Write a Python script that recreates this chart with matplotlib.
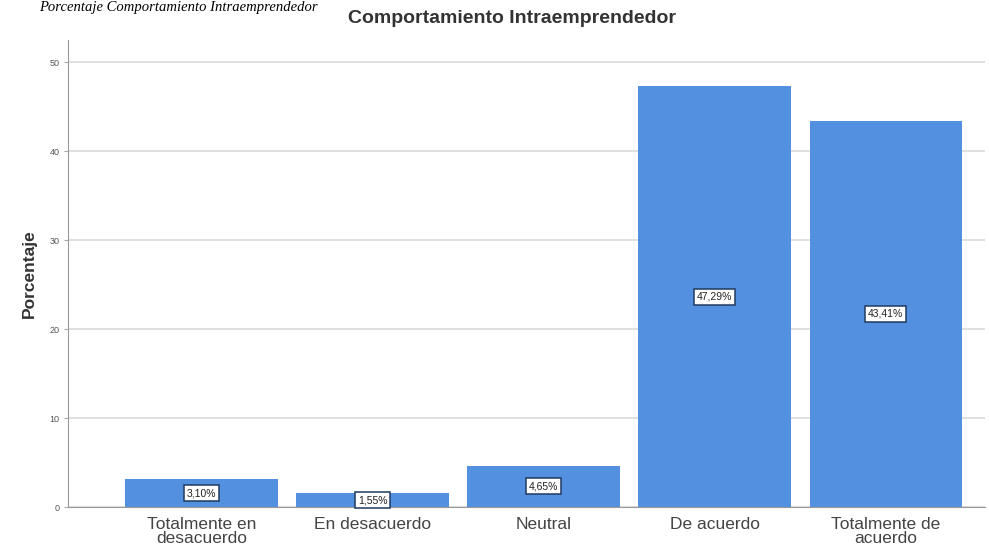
import matplotlib.pyplot as plt

# Data
categories = ["Totalmente en\ndesacuerdo", "En desacuerdo", "Neutral",
              "De acuerdo", "Totalmente de\nacuerdo"]
percentages = [3.10, 1.55, 4.65, 47.29, 43.41]
y_ticks = [0, 10, 20, 30, 40, 50]

plt.rcParams["font.family"] = ["Liberation Sans", "DejaVu Sans"]

fig = plt.figure(figsize=(9.89, 5.52), dpi=100)
ax = fig.add_axes([0.0688, 0.0815, 0.927, 0.846])

x = list(range(len(categories)))
bars = ax.bar(x, percentages, width=0.89, color="#5390e0", zorder=2)

# value labels in white boxes at mid-height of each bar
for xi, v in zip(x, percentages):
    ax.text(xi, v / 2, f"{v:.2f}%".replace(".", ","), ha="center", va="center",
            fontsize=7.5, color="#222222", zorder=3,
            bbox=dict(boxstyle="square,pad=0.3", fc="white", ec="#1f3a5f", lw=1.1))

ax.set_xlim(-0.78, 4.58)
ax.set_ylim(0, 52.5)
ax.set_yticks(y_ticks)
ax.set_yticklabels([str(t) for t in y_ticks], fontsize=6.5, color="#555555")
ax.set_xticks(x)
ax.set_xticklabels(categories, fontsize=12.5, color="#444444", linespacing=0.95)
ax.tick_params(axis="x", length=0, pad=7)
ax.tick_params(axis="y", length=3, color="#aaaaaa", pad=3)
ax.grid(axis="y", color="#dddddd", lw=1.3, zorder=0)

for side in ["top", "right"]:
    ax.spines[side].set_visible(False)
ax.spines["left"].set_color("#999999")
ax.spines["bottom"].set_color("#999999")

ax.set_ylabel("Porcentaje", fontsize=12.5, fontweight="bold", color="#333333", labelpad=9)
fig.text(0.518, 0.967, "Comportamiento Intraemprendedor", ha="center", va="center",
         fontsize=14, fontweight="bold", color="#333333")

# caption from the document, at the top edge
fig.text(0.040, 0.998, "Porcentaje Comportamiento Intraemprendedor", ha="left",
         va="top", fontsize=10.5, style="italic",
         family=["Liberation Serif", "DejaVu Serif"], color="black")

fig.savefig("out.png", dpi=100)
plt.close(fig)
